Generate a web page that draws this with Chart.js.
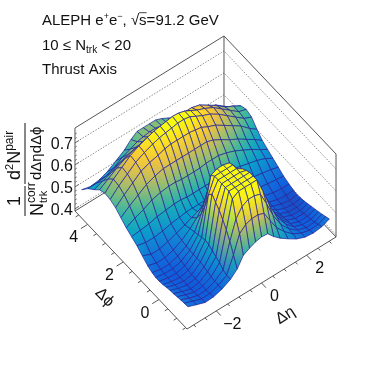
<!DOCTYPE html>
<html><head><meta charset="utf-8">
<style>html,body{margin:0;padding:0;background:#fff}canvas{display:block}</style>
<script src="https://cdn.jsdelivr.net/npm/chart.js@4"></script></head>
<body><canvas id="c" width="374" height="367"></canvas>
<script>
const etaNodes=[-3.13,-2.75,-2.37,-2,-1.62,-1.25,-.95,-.68,-.41,-.14,.13,.4,.67,.95,1.3,1.68,2.05,2.42,2.8,3.13];
const phiNodes=[-1.41,-1.2,-1,-.8,-.6,-.4,-.2,0,.2,.4,.6,.85,1.15,1.45,1.75,2.05,2.35,2.65,2.95,3.25,3.55,3.85,4.2,4.55];
const zGrid=[
[.467,.452,.438,.44,.452,.472,.50,.545,.56,.572,.578,.575,.545,.52,.495,.47,.455,.45,.455,.469],
[.465,.45,.436,.437,.45,.472,.545,.625,.65,.66,.66,.65,.60,.55,.51,.475,.455,.445,.447,.462],
[.463,.447,.434,.436,.452,.48,.59,.675,.715,.73,.73,.72,.66,.59,.525,.48,.452,.44,.44,.456],
[.46,.445,.433,.436,.455,.495,.625,.75,.768,.768,.768,.768,.70,.62,.54,.485,.45,.436,.436,.45],
[.457,.442,.431,.436,.46,.505,.655,.768,.768,.768,.768,.768,.71,.625,.545,.487,.447,.432,.432,.445],
[.455,.44,.431,.437,.465,.515,.68,.768,.768,.768,.768,.768,.71,.625,.545,.485,.445,.43,.428,.44],
[.452,.438,.431,.438,.47,.525,.70,.768,.768,.768,.768,.76,.70,.615,.535,.48,.443,.427,.425,.435],
[.447,.436,.431,.44,.472,.53,.72,.768,.768,.768,.768,.75,.68,.60,.525,.475,.44,.425,.422,.43],
[.445,.436,.433,.443,.472,.525,.70,.768,.768,.768,.768,.73,.66,.58,.515,.47,.44,.425,.42,.427],
[.445,.438,.437,.448,.472,.52,.63,.755,.768,.768,.76,.69,.62,.55,.50,.465,.44,.427,.42,.425],
[.45,.441,.441,.453,.475,.515,.58,.665,.705,.72,.71,.63,.57,.515,.485,.46,.442,.43,.425,.428],
[.46,.448,.448,.46,.48,.51,.54,.58,.60,.61,.60,.56,.525,.495,.475,.46,.45,.44,.435,.435],
[.48,.462,.462,.472,.487,.50,.515,.525,.53,.535,.53,.52,.505,.49,.478,.468,.462,.455,.45,.445],
[.50,.49,.49,.495,.505,.51,.515,.515,.515,.515,.515,.51,.505,.50,.495,.49,.485,.478,.47,.46],
[.515,.52,.525,.535,.54,.545,.545,.54,.54,.54,.54,.54,.54,.54,.54,.53,.52,.51,.495,.475],
[.53,.55,.565,.585,.595,.60,.60,.595,.595,.595,.595,.60,.60,.60,.59,.575,.555,.535,.51,.49],
[.55,.58,.605,.63,.645,.655,.655,.655,.655,.655,.655,.655,.655,.645,.625,.60,.58,.555,.53,.505],
[.57,.605,.635,.665,.68,.69,.70,.705,.705,.705,.705,.70,.695,.68,.665,.64,.615,.59,.555,.53],
[.582,.62,.65,.68,.70,.715,.725,.73,.735,.74,.74,.735,.72,.705,.69,.665,.635,.605,.575,.56],
[.585,.625,.655,.685,.705,.72,.73,.735,.74,.745,.743,.735,.72,.705,.69,.67,.64,.61,.58,.57],
[.575,.60,.625,.645,.66,.67,.68,.685,.685,.69,.69,.69,.69,.69,.68,.655,.63,.60,.58,.56],
[.55,.565,.58,.60,.615,.625,.63,.635,.635,.635,.635,.64,.64,.635,.625,.605,.585,.57,.55,.53],
[.525,.525,.53,.545,.57,.585,.60,.605,.61,.61,.605,.60,.595,.58,.57,.555,.54,.53,.515,.50],
[.49,.48,.485,.50,.525,.55,.58,.60,.60,.60,.60,.59,.575,.56,.545,.535,.525,.515,.50,.474]
];
const etaTicks=[-2,0,2];
const phiTicks=[0,2,4];
const zTicks=[.4,.5,.6,.7];
const etaRange=[-3.3,3.3];
const phiRange=[-1.5708,4.7124];
const zRange=[.39,.768];
const colorRange=[.39,.735];

const P={x0:187,y0:329,ex:22.58,ey:-13.94,px:-17.83,py:-18.78,zy:-219.6};
function proj(e,p,z){
  const a=e-etaRange[0],b=p-phiRange[0];
  return {x:P.x0+P.ex*a+P.px*b,y:P.y0+P.ey*a+P.py*b+P.zy*(z-zRange[0])};
}
const stops=[[53,42,135],[15,92,221],[20,129,214],[6,164,202],[46,183,164],[135,191,119],[209,187,89],[254,200,50],[249,251,14]];
function col(z){
  let t=(z-colorRange[0])/(colorRange[1]-colorRange[0]);t=Math.max(0,Math.min(.9999,t))*8;
  const i=Math.floor(t),f=t-i,A=stops[i],B=stops[i+1];
  return `rgb(${A.map((v,k)=>Math.round(v+(B[k]-v)*f)).join(',')})`;
}
const cv=document.getElementById('c'),c2=cv.getContext('2d');
const layers=[];
function seg(pts,color,w,dash){layers.push({data:pts,showLine:true,fill:false,pointRadius:0,borderColor:color,borderWidth:w,borderDash:dash||[],tension:0});}
const [E0,E1]=etaRange,[F0,F1]=phiRange,[Z0,Z1]=zRange;
const grey='#8a8a8a',dark='#555';
zTicks.forEach(z=>{seg([proj(E0,F1,z),proj(E1,F1,z),proj(E1,F0,z)],grey,1,[1.5,1.5]);});
seg([proj(E0,F1,Z1),proj(E1,F1,Z1),proj(E1,F0,Z1)],dark,1);
seg([proj(E0,F1,Z0),proj(E1,F1,Z0),proj(E1,F0,Z0)],dark,1);
seg([proj(E1,F1,Z0),proj(E1,F1,Z1)],dark,1);
seg([proj(E1,F0,Z0),proj(E1,F0,Z1)],dark,1);
seg([proj(E0,F1,Z0),proj(E0,F1,Z1)],dark,1);
seg([proj(E0,F0,Z0),proj(E1,F0,Z0)],dark,1);
seg([proj(E0,F0,Z0),proj(E0,F1,Z0)],dark,1);
for(let v=-3;v<=3;v+=.5){const big=etaTicks.includes(v);const L=big?.25:.12;
  seg([proj(v,F0,Z0),proj(v,F0-L,Z0)],dark,1);}
for(let v=-1.5;v<=4.5;v+=.5){const big=phiTicks.includes(v);const L=big?.3:.14;
  seg([proj(E0,v,Z0),proj(E0-L,v,Z0)],dark,1);}
for(let v=.4;v<=.76;v+=.02){const big=zTicks.some(t=>Math.abs(t-v)<.001);const L=big?.17:.08;
  seg([proj(E0,F1,v),proj(E0+L,F1,v)],dark,.8);}
for(let i=phiNodes.length-2;i>=0;i--){
  for(let j=etaNodes.length-2;j>=0;j--){
    const zs=[zGrid[i][j],zGrid[i][j+1],zGrid[i+1][j+1],zGrid[i+1][j]];
    const corners=[proj(etaNodes[j],phiNodes[i],zs[0]),proj(etaNodes[j+1],phiNodes[i],zs[1]),
      proj(etaNodes[j+1],phiNodes[i+1],zs[2]),proj(etaNodes[j],phiNodes[i+1],zs[3])];
    let lo=0,hi=0;zs.forEach((z,k)=>{if(z<zs[lo])lo=k;if(z>zs[hi])hi=k;});
    let fillStyle=col(zs[hi]);
    if(zs[hi]-zs[lo]>.001){
      const g=c2.createLinearGradient(corners[lo].x,corners[lo].y,corners[hi].x,corners[hi].y);
      g.addColorStop(0,col(zs[lo]));g.addColorStop(1,col(zs[hi]));fillStyle=g;
    }
    layers.push({data:corners.concat([corners[0]]),showLine:true,fill:'shape',backgroundColor:fillStyle,pointRadius:0,borderColor:'rgba(35,35,150,.8)',borderWidth:.9,tension:0});
  }
}
const FONT='"Liberation Sans"';
function rich(ctx,x,y,segs){
  segs.forEach(s=>{
    ctx.font=`${s.size}px ${FONT}`;
    ctx.fillText(s.t,x,y+(s.dy||0));
    const w=ctx.measureText(s.t).width;
    if(s.over){ctx.save();ctx.lineWidth=.8;ctx.strokeStyle='#111';ctx.beginPath();ctx.moveTo(x,y-s.size*.82);ctx.lineTo(x+w,y-s.size*.82);ctx.stroke();ctx.restore();}
    x+=s.adv!==undefined?s.adv:w;
  });
}
const textPlugin={id:'txt',afterDraw(chart){
  const ctx=chart.ctx,sx=chart.scales.x,sy=chart.scales.y;
  ctx.save();ctx.fillStyle='#111';ctx.textBaseline='alphabetic';ctx.textAlign='left';
  rich(ctx,42,25,[{t:'ALEPH e',size:15},{t:'+',size:9,dy:-6},{t:'e',size:15},{t:'−',size:9,dy:-6},{t:', √',size:15},{t:'s',size:15,over:true},{t:'=91.2 GeV',size:15}]);
  rich(ctx,42,50,[{t:'10 ≤ N',size:15},{t:'trk',size:10,dy:3},{t:' < 20',size:15}]);
  rich(ctx,42,74,[{t:'Thrust Axis',size:15}]);
  ctx.font=`16px ${FONT}`;ctx.textAlign='right';
  zTicks.forEach(z=>{const q=proj(E0,F1,z);ctx.fillText(z.toFixed(1),sx.getPixelForValue(q.x)-2,sy.getPixelForValue(q.y)+6);});
  ctx.textAlign='center';
  phiTicks.forEach(v=>{const q=proj(E0,v,Z0);ctx.fillText(String(v),sx.getPixelForValue(q.x)-14,sy.getPixelForValue(q.y)+18);});
  etaTicks.forEach(v=>{const q=proj(v,F0,Z0);ctx.fillText(v<0?'−'+(-v):String(v),sx.getPixelForValue(q.x)+(v<0?16:13),sy.getPixelForValue(q.y)+18);});
  ctx.save();ctx.translate(105,297);ctx.rotate(Math.PI/4);ctx.font=`16px ${FONT}`;ctx.fillText('Δϕ',0,5);ctx.restore();
  ctx.save();ctx.translate(285,315);ctx.rotate(-Math.PI*.18);ctx.font=`16px ${FONT}`;ctx.fillText('Δη',0,5);ctx.restore();
  ctx.save();ctx.rotate(-Math.PI/2);ctx.textAlign='left';
  ctx.lineWidth=1;ctx.strokeStyle='#111';
  ctx.beginPath();ctx.moveTo(-216,25);ctx.lineTo(-186,25);ctx.moveTo(-184,25);ctx.lineTo(-123,25);ctx.stroke();
  ctx.font=`18px ${FONT}`;ctx.fillText('1',-206,20);
  rich(ctx,-216,43,[{t:'N',size:18}]);
  rich(ctx,-203,47,[{t:'trk',size:11}]);
  rich(ctx,-203,35,[{t:'corr',size:12}]);
  rich(ctx,-180,20,[{t:'d',size:18},{t:'2',size:11,dy:-7},{t:'N',size:18},{t:'pair',size:12,dy:-7}]);
  rich(ctx,-180,41,[{t:'dΔηdΔϕ',size:15}]);
  ctx.restore();
  ctx.restore();
}};
new Chart(cv,{
  type:'scatter',
  data:{datasets:layers.slice().reverse()},
  options:{responsive:false,animation:false,devicePixelRatio:1,layout:{padding:0},
    parsing:false,normalized:true,
    plugins:{legend:{display:false},tooltip:{enabled:false},filler:{propagate:false}},
    scales:{x:{type:'linear',display:false,min:0,max:374},y:{type:'linear',display:false,min:0,max:367,reverse:true}}
  },
  plugins:[textPlugin]
});
</script></body></html>
